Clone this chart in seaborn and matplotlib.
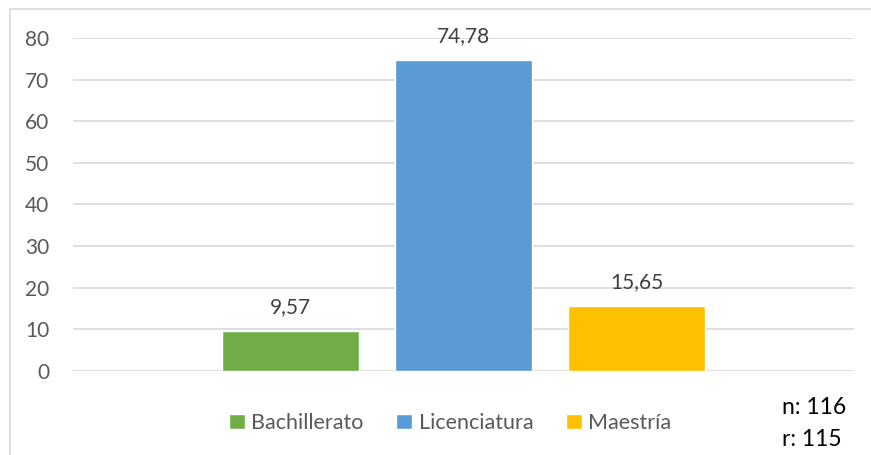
import matplotlib
matplotlib.use("Agg")
import matplotlib.pyplot as plt
import seaborn as sns
import pandas as pd
from matplotlib.patches import Rectangle

# Datos del gráfico
niveles = ["Bachillerato", "Licenciatura", "Maestría"]
porcentajes = [9.57, 74.78, 15.65]
colores = ["#70ad47", "#5b9bd5", "#ffc000"]
nota_n = "n: 116"
nota_r = "r: 115"

df = pd.DataFrame({"grupo": [""] * len(niveles), "nivel": niveles, "valor": porcentajes})

sns.set_style("white")
plt.rcParams["font.family"] = ["Lato", "DejaVu Sans"]

fig = plt.figure(figsize=(8.71, 4.55), dpi=100)
ax = fig.add_axes([73 / 871, 1 - 371 / 455, 781 / 871, 333 / 455])

sns.barplot(data=df, x="grupo", y="valor", hue="nivel", hue_order=niveles,
            palette=colores, width=0.6645, gap=0.208, saturation=1, ax=ax)

ax.set_xlim(-0.5, 0.5)
ax.set_ylim(0, 80)
ax.set_yticks(range(0, 81, 10))
ax.yaxis.grid(True, color="#d9d9d9", linewidth=1.2)
ax.set_axisbelow(True)
for s in ax.spines.values():
    s.set_visible(False)
ax.tick_params(axis="y", length=0, pad=17, labelsize=15, labelcolor="#595959")
ax.set_xticks([])
ax.set_xlabel("")
ax.set_ylabel("")

for cont in ax.containers:
    etiquetas = [f"{b.get_height():.2f}".replace(".", ",") for b in cont]
    ax.bar_label(cont, labels=etiquetas, padding=10, fontsize=15, color="#404040")

handles, labels = ax.get_legend_handles_labels()
ax.legend(handles, labels, loc="center", bbox_to_anchor=(450 / 871, 1 - 423 / 455),
          bbox_transform=fig.transFigure, ncol=3, frameon=False, fontsize=15.5,
          handlelength=0.75, handleheight=0.75, handletextpad=0.3, columnspacing=1.5,
          labelcolor="#595959")

fig.text(782 / 871, 1 - 408 / 455, nota_n, fontsize=16.5, color="black", va="center", ha="left")
fig.text(782 / 871, 1 - 440 / 455, nota_r, fontsize=16.5, color="black", va="center", ha="left")

# borde del área del gráfico
fig.patches.append(Rectangle((9.5 / 871, -0.1), 1.2, 1 - 8.5 / 455 + 0.1, transform=fig.transFigure,
                             fill=False, edgecolor="#d9d9d9", linewidth=1.2))

fig.savefig("out.png", dpi=100, facecolor="white")
